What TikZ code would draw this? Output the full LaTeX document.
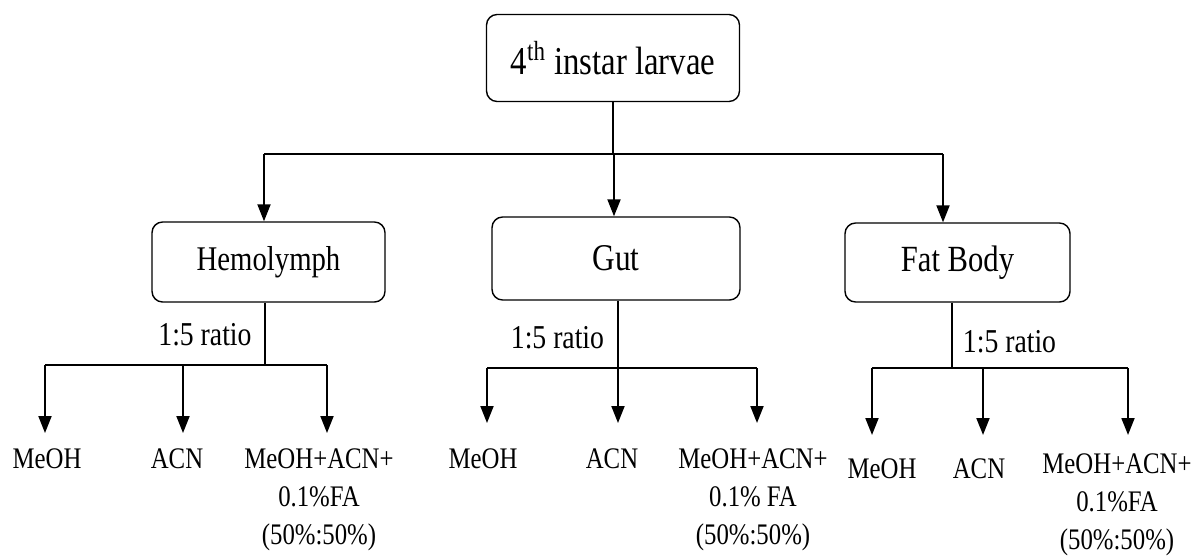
\documentclass[tikz,border=0pt]{standalone}
\usepackage{fontspec}
\setmainfont{Liberation Serif}[FakeStretch=0.83]
\usetikzlibrary{arrows.meta,positioning,calc}

\begin{document}
\begin{tikzpicture}[
    x=0.02cm, y=-0.02cm,
    box/.style={draw, rounded corners=6pt, line width=0.8pt, align=center, inner sep=0pt},
    leaf/.style={inner sep=0pt, anchor=north, align=center, font=\fontsize{17}{21.8}\selectfont},
    ratio/.style={inner sep=0pt, font=\fontsize{19}{23}\selectfont},
    link/.style={line width=1.1pt},
    arr/.style={-{Triangle[length=0.34cm, width=0.26cm]}, line width=1.1pt}
]
\useasboundingbox (0,0) rectangle (1195,558);

% top of the tree
\node[box, minimum width=5.06cm, minimum height=1.74cm, font=\fontsize{22.5}{27}\selectfont] (larvae) at (613,58) {4\textsuperscript{th} instar larvae};
\node[box, minimum width=4.66cm, minimum height=1.6cm, font=\fontsize{19.7}{24}\selectfont] (hemo) at (268.5,262) {Hemolymph};
\node[box, minimum width=4.96cm, minimum height=1.66cm, font=\fontsize{21.5}{26}\selectfont] (gut) at (616,258.5) {Gut};
\node[box, minimum width=4.5cm, minimum height=1.58cm, font=\fontsize{21}{25}\selectfont] (fat) at (957.5,262.5) {Fat Body};

\coordinate (hj) at (264,154);
\coordinate (gj) at (614,154);
\coordinate (fj) at (943,154);
\draw[link] (larvae.south) -- (larvae.south |- gj);
\draw[link] (hj) -- (fj);
\draw[arr] (hj) -- (hj |- hemo.north);
\draw[arr] (gj) -- (gj |- gut.north);
\draw[arr] (fj) -- (fj |- fat.north);

% Hemolymph
\coordinate (hs) at (265,365);
\coordinate (h1) at (45,365);
\coordinate (h2) at (183,365);
\coordinate (h3) at (327,365);
\draw[link] (hemo.south -| hs) -- node[ratio, left=0.25cm, pos=0.52] (hr) {1:5 ratio} (hs);
\draw[link] (h1) -- (h3);
\node[leaf] (hm1) at (47,448) {MeOH};
\node[leaf] (hm2) at (177,448) {ACN};
\node[leaf] (hm3) at (319,448) {MeOH+ACN+\\0.1\%FA\\(50\%:50\%)};
\draw[arr, shorten >=0.3cm] (h1) -- (h1 |- hm1.north);
\draw[arr, shorten >=0.3cm] (h2) -- (h2 |- hm2.north);
\draw[arr, shorten >=0.3cm] (h3) -- (h3 |- hm3.north);

% Gut
\coordinate (gs) at (618,368);
\coordinate (g1) at (487,368);
\coordinate (g3) at (757,368);
\draw[link] (gut.south -| gs) -- node[ratio, left=0.26cm, pos=0.55] (gr) {1:5 ratio} (gs);
\draw[link] (g1) -- (g3);
\node[leaf] (gm1) at (483,448) {MeOH};
\node[leaf] (gm2) at (612,448) {ACN};
\node[leaf] (gm3) at (753,448) {MeOH+ACN+\\0.1\% FA\\(50\%:50\%)};
\draw[arr, shorten >=0.5cm] (g1) -- (g1 |- gm1.north);
\draw[arr, shorten >=0.5cm] (gs) -- (gs |- gm2.north);
\draw[arr, shorten >=0.5cm] (g3) -- (g3 |- gm3.north);

% Fat Body
\coordinate (fs) at (952,368);
\coordinate (f1) at (872,368);
\coordinate (f2) at (983,368);
\coordinate (f3) at (1128,368);
\draw[link] (fat.south -| fs) -- node[ratio, right=0.2cm, pos=0.6] (fr) {1:5 ratio} (fs);
\draw[link] (f1) -- (f3);
\node[leaf] (fm1) at (882,458) {MeOH};
\node[leaf] (fm2) at (979,458) {ACN};
\node[leaf] (fm3) at (1117,453) {MeOH+ACN+\\0.1\%FA\\(50\%:50\%)};
\draw[arr, shorten >=0.46cm] (f1) -- (f1 |- fm1.north);
\draw[arr, shorten >=0.46cm] (f2) -- (f2 |- fm2.north);
\draw[arr, shorten >=0.36cm] (f3) -- (f3 |- fm3.north);
\end{tikzpicture}
\end{document}
